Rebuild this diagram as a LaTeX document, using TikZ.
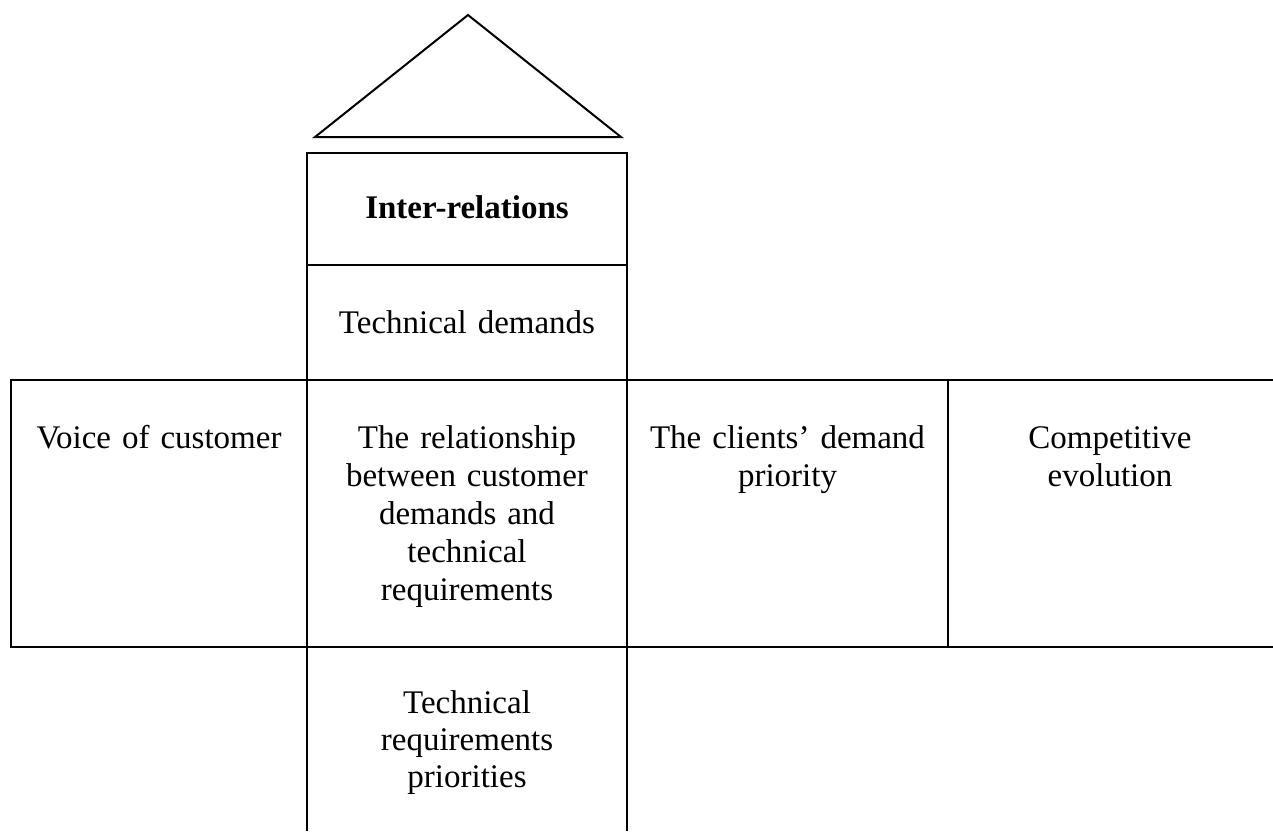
\documentclass[tikz,border=0pt]{standalone}
\usepackage{fontspec}
\setmainfont{Liberation Serif}
\begin{document}
\begin{tikzpicture}[x=1pt,y=-1pt,line width=2pt,
  lbl/.style={anchor=base,inner sep=0pt,text width=320pt,align=center,
    font=\fontsize{33}{38}\selectfont}]
\useasboundingbox (0,0) rectangle (1273,831);
% roof
\draw (315,137) -- (468,15) -- (621,137) -- cycle;
% central column
\draw (307,831) -- (307,153) -- (627,153) -- (627,831);
\draw (307,265) -- (627,265);
% wide row
\draw (1273,380) -- (11,380) -- (11,647) -- (1273,647);
\draw (948,380) -- (948,647);
% texts
\node[lbl,font=\fontsize{33}{38}\selectfont\bfseries] (inter) at (467,218) {Inter-relations};
\node[lbl] (techdem) at (467,333) {Technical demands};
\node[lbl] (voice) at (159,448) {Voice of customer};
\node[lbl] (rel) at (467,448) {The relationship\\between customer\\demands and\\technical\\requirements};
\node[lbl] (clients) at (787.5,448) {The clients’ demand\\priority};
\node[lbl] (comp) at (1110,448) {Competitive\\evolution};
\node[lbl,font=\fontsize{33}{37}\selectfont] (prio) at (467,713) {Technical\\requirements\\priorities};
\end{tikzpicture}
\end{document}
